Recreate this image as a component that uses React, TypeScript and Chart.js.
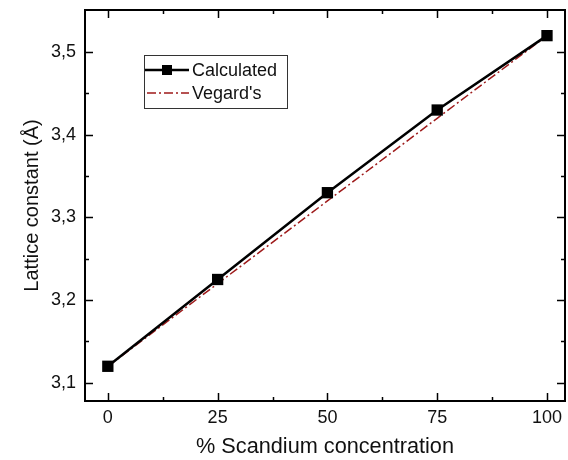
import React, { useEffect, useRef } from 'react';
import { Chart, registerables } from 'chart.js';

Chart.register(...registerables);

const concentration = [0, 25, 50, 75, 100];
const calculated = [3.12, 3.225, 3.33, 3.43, 3.52];
const vegard = [3.12, 3.22, 3.32, 3.42, 3.52];
const xTicks = [0, 25, 50, 75, 100];
const yTicks = [3.1, 3.2, 3.3, 3.4, 3.5];
const xMinor = [12.5, 37.5, 62.5, 87.5];
const yMinor = [3.15, 3.25, 3.35, 3.45];
const seriesNames = ['Calculated', "Vegard's"];
const xTitle = '% Scandium concentration';
const yTitle = 'Lattice constant (Å)';

const FONT = "'Liberation Sans', Arial, sans-serif";
const RED = '#9e1a1a';
const DASH = [9, 3, 2, 3];

const framePlugin = {
  id: 'frame',
  afterDatasetsDraw(chart: any) {
    const { ctx, chartArea: a, scales } = chart;
    const x = scales.x;
    const y = scales.y;
    ctx.save();
    ctx.strokeStyle = '#000';
    ctx.lineWidth = 2;
    ctx.strokeRect(a.left, a.top, a.right - a.left, a.bottom - a.top);
    ctx.lineWidth = 1.5;
    ctx.beginPath();
    const tickX = (v: number, len: number) => {
      const px = Math.round(x.getPixelForValue(v)) + 0.5;
      ctx.moveTo(px, a.bottom);
      ctx.lineTo(px, a.bottom - len);
      ctx.moveTo(px, a.top);
      ctx.lineTo(px, a.top + len);
    };
    const tickY = (v: number, len: number) => {
      const py = Math.round(y.getPixelForValue(v)) + 0.5;
      ctx.moveTo(a.left, py);
      ctx.lineTo(a.left + len, py);
      ctx.moveTo(a.right, py);
      ctx.lineTo(a.right - len, py);
    };
    xTicks.forEach((v) => tickX(v, 8));
    xMinor.forEach((v) => tickX(v, 4));
    yTicks.forEach((v) => tickY(v, 8));
    yMinor.forEach((v) => tickY(v, 4));
    ctx.stroke();

    // legend
    const bx = 144, by = 55, bw = 143, bh = 53;
    ctx.fillStyle = '#fff';
    ctx.fillRect(bx, by, bw, bh);
    ctx.strokeStyle = '#333';
    ctx.lineWidth = 1;
    ctx.strokeRect(bx + 0.5, by + 0.5, bw, bh);
    const r1 = 70, r2 = 93;
    ctx.strokeStyle = '#000';
    ctx.lineWidth = 2.5;
    ctx.beginPath();
    ctx.moveTo(bx + 1, r1);
    ctx.lineTo(bx + 45, r1);
    ctx.stroke();
    ctx.fillStyle = '#000';
    ctx.fillRect(bx + 23 - 5, r1 - 5, 10, 10);
    ctx.strokeStyle = RED;
    ctx.lineWidth = 1.5;
    ctx.setLineDash(DASH);
    ctx.beginPath();
    ctx.moveTo(bx + 3, r2);
    ctx.lineTo(bx + 45, r2);
    ctx.stroke();
    ctx.setLineDash([]);
    ctx.fillStyle = '#111';
    ctx.font = `18px ${FONT}`;
    ctx.textBaseline = 'middle';
    ctx.textAlign = 'left';
    ctx.fillText(seriesNames[0], bx + 48, r1 + 1);
    ctx.fillText(seriesNames[1], bx + 48, r2 + 1);
    ctx.restore();
  },
};

export default function App() {
  const ref = useRef<HTMLCanvasElement>(null);
  useEffect(() => {
    if (!ref.current) return;
    const chart = new Chart(ref.current, {
      type: 'scatter',
      data: {
        datasets: [
          {
            label: seriesNames[1],
            data: concentration.map((c, i) => ({ x: c, y: vegard[i] })),
            showLine: true,
            borderColor: RED,
            borderWidth: 1.5,
            borderDash: DASH,
            pointRadius: 0,
            order: 2,
          },
          {
            label: seriesNames[0],
            data: concentration.map((c, i) => ({ x: c, y: calculated[i] })),
            showLine: true,
            borderColor: '#000',
            borderWidth: 2.5,
            pointStyle: 'rect',
            pointRadius: 8,
            pointBackgroundColor: '#000',
            pointBorderColor: '#000',
            pointBorderWidth: 0,
            order: 1,
          },
        ],
      },
      options: {
        animation: false,
        responsive: false,
        maintainAspectRatio: false,
        layout: { autoPadding: false, padding: { top: 10, right: 3, left: 0, bottom: 0 } },
        plugins: { legend: { display: false }, tooltip: { enabled: false } },
        scales: {
          x: {
            type: 'linear',
            min: -5.2,
            max: 104.1,
            grid: { display: false, drawTicks: false },
            border: { display: false },
            afterBuildTicks: (s: any) => {
              s.ticks = xTicks.map((v) => ({ value: v }));
            },
            afterFit: (s: any) => {
              s.height = 59;
              s.paddingLeft = 0;
              s.paddingRight = 0;
              s.paddingTop = 0;
              s.paddingBottom = 0;
            },
            ticks: {
              color: '#111',
              padding: 6,
              font: { family: FONT, size: 18 },
              callback: (v: any) => String(v),
            },
            title: {
              display: true,
              text: xTitle,
              color: '#111',
              font: { family: FONT, size: 21.7 },
              padding: { top: 0, bottom: 0 },
            },
          },
          y: {
            type: 'linear',
            min: 3.078,
            max: 3.551,
            grid: { display: false, drawTicks: false },
            border: { display: false },
            afterBuildTicks: (s: any) => {
              s.ticks = yTicks.map((v) => ({ value: v }));
            },
            afterFit: (s: any) => {
              s.width = 85;
              s.paddingLeft = 0;
              s.paddingRight = 0;
              s.paddingTop = 0;
              s.paddingBottom = 0;
            },
            ticks: {
              color: '#111',
              padding: 9,
              font: { family: FONT, size: 18 },
              callback: (v: any) => Number(v).toFixed(1).replace('.', ','),
            },
            title: {
              display: true,
              text: yTitle,
              color: '#111',
              font: { family: FONT, size: 20 },
              padding: { top: 20, bottom: 0 },
            },
          },
        },
      },
      plugins: [framePlugin],
    });
    return () => chart.destroy();
  }, []);
  return (
    <div style={{ position: 'fixed', left: 0, top: 0, width: 568, height: 460, background: '#fff' }}>
      <canvas ref={ref} width={568} height={460} style={{ width: 568, height: 460 }} />
    </div>
  );
}
